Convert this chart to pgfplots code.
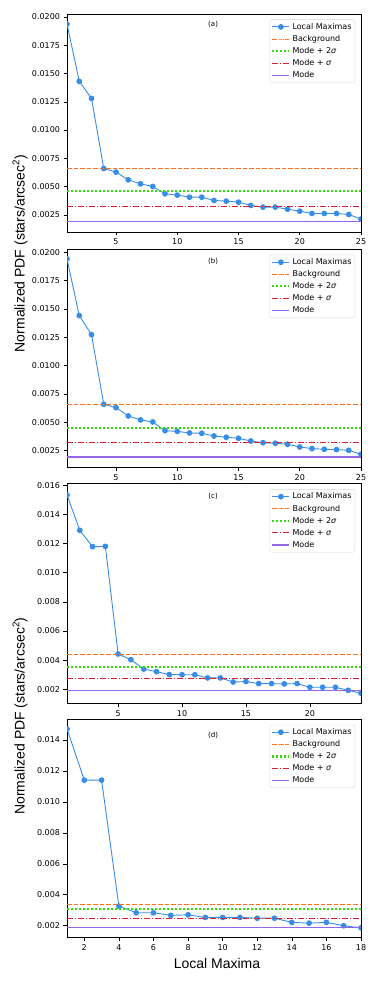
\documentclass[border=0pt]{standalone}
\usepackage{fontspec}
\setmainfont{DejaVu Sans}
\newfontfamily\arial{Liberation Sans}
\usepackage{pgfplots}
\pgfplotsset{compat=1.18}

\definecolor{cblue}{RGB}{56,142,230}
\definecolor{corange}{RGB}{255,112,30}
\definecolor{cgreen}{RGB}{50,220,10}
\definecolor{cred}{RGB}{225,30,45}
\definecolor{cpurple}{RGB}{150,100,235}

\pgfplotsset{
  panel/.style={
    scale only axis, width=294pt, height=218pt, anchor=south west,
    axis line style={black, line width=0.6pt},
    tick align=outside, major tick length=3.5pt,
    tick style={black, line width=0.6pt},
    tick pos=left, scaled y ticks=false,
    clip marker paths=true,
    font=\fontsize{8}{9}\selectfont,
    /pgf/number format/assume math mode=true,
    legend cell align=left,
    legend style={at={(0.98,0.975)}, anchor=north east, draw=black!15,
      rounded corners=2pt, fill=white, font=\fontsize{8}{9}\selectfont,
      inner sep=1.5pt, row sep=0.5pt},
  },
  maxima/.style={color=cblue, line width=0.9pt, mark=*, mark size=2.4pt},
  bg/.style={color=corange, line width=1pt, dash pattern=on 4.5pt off 2pt},
  twosig/.style={color=cgreen, line width=2.2pt, dash pattern=on 2pt off 2pt},
  onesig/.style={color=cred, line width=1pt, dash pattern=on 6pt off 2pt on 1pt off 2pt},
  modeline/.style={color=cpurple, line width=1.2pt},
  fourdig/.style={yticklabel style={/pgf/number format/.cd, fixed, fixed zerofill, precision=4}},
  threedig/.style={yticklabel style={/pgf/number format/.cd, fixed, fixed zerofill, precision=3}},
}

\begin{document}
\begin{tikzpicture}
\useasboundingbox (0,0) rectangle (374pt,985pt);

% (a)
\begin{axis}[panel, fourdig, at={(67pt,753pt)},
  xmin=1, xmax=25, ymin=0.00098, ymax=0.02027,
  xtick={5,10,15,20,25},
  ytick={0.0025,0.005,0.0075,0.01,0.0125,0.015,0.0175,0.02}]
\addplot[maxima] coordinates {
(1,0.01938)(2,0.01431)(3,0.0128)(4,0.0066)(5,0.00628)(6,0.0056)(7,0.00524)(8,0.00501)
(9,0.00436)(10,0.00424)(11,0.00406)(12,0.00406)(13,0.00377)(14,0.00371)(15,0.00362)
(16,0.00333)(17,0.00318)(18,0.00318)(19,0.0030)(20,0.00282)(21,0.00262)(22,0.00262)
(23,0.00262)(24,0.00253)(25,0.00212)};
\addplot[bg] coordinates {(1,0.0066)(25,0.0066)};
\addplot[twosig] coordinates {(1,0.0046)(25,0.0046)};
\addplot[onesig] coordinates {(1,0.00324)(25,0.00324)};
\addplot[modeline] coordinates {(1,0.00191)(25,0.00191)};
\legend{Local Maximas, Background, Mode + 2\textit{σ}, Mode + \textit{σ}, Mode}
\node[font=\fontsize{7}{8}\selectfont] at (rel axis cs:0.497,0.954) {(a)};
\end{axis}

% (b)
\begin{axis}[panel, fourdig, at={(67pt,517.7pt)},
  xmin=1, xmax=25, ymin=0.00103, ymax=0.02026,
  xtick={5,10,15,20,25},
  ytick={0.0025,0.005,0.0075,0.01,0.0125,0.015,0.0175,0.02}]
\addplot[maxima] coordinates {
(1,0.01941)(2,0.01441)(3,0.01273)(4,0.00659)(5,0.00629)(6,0.00556)(7,0.00521)(8,0.00503)
(9,0.00426)(10,0.0042)(11,0.00406)(12,0.00403)(13,0.00379)(14,0.00368)(15,0.00359)
(16,0.00335)(17,0.0032)(18,0.00315)(19,0.00306)(20,0.00282)(21,0.00268)(22,0.00262)
(23,0.00259)(24,0.00253)(25,0.00218)};
\addplot[bg] coordinates {(1,0.00653)(25,0.00653)};
\addplot[twosig] coordinates {(1,0.00453)(25,0.00453)};
\addplot[onesig] coordinates {(1,0.0032)(25,0.0032)};
\addplot[modeline] coordinates {(1,0.00194)(25,0.00194)};
\legend{Local Maximas, Background, Mode + 2\textit{σ}, Mode + \textit{σ}, Mode}
\node[font=\fontsize{7}{8}\selectfont] at (rel axis cs:0.497,0.943) {(b)};
\end{axis}

% (c)
\begin{axis}[panel, threedig, at={(67pt,281.7pt)}, height=219.6pt,
  xmin=1, xmax=24, ymin=0.00104, ymax=0.0161,
  xtick={5,10,15,20},
  ytick={0.002,0.004,0.006,0.008,0.01,0.012,0.014,0.016}]
\addplot[maxima] coordinates {
(1,0.01533)(2,0.0129)(3,0.01178)(4,0.0118)(5,0.00442)(6,0.00403)(7,0.00339)(8,0.00321)
(9,0.00301)(10,0.0030)(11,0.0030)(12,0.00278)(13,0.00278)(14,0.0025)(15,0.00253)
(16,0.00239)(17,0.00239)(18,0.00237)(19,0.00239)(20,0.00214)(21,0.00214)(22,0.00214)
(23,0.00193)(24,0.00173)};
\addplot[bg] coordinates {(1,0.0044)(24,0.0044)};
\addplot[twosig] coordinates {(1,0.00353)(24,0.00353)};
\addplot[onesig] coordinates {(1,0.00273)(24,0.00273)};
\addplot[modeline] coordinates {(1,0.00191)(24,0.00191)};
\legend{Local Maximas, Background, Mode + 2\textit{σ}, Mode + \textit{σ}, Mode}
\node[font=\fontsize{7}{8}\selectfont] at (rel axis cs:0.497,0.944) {(c)};
\end{axis}

% (d)
\begin{axis}[panel, threedig, at={(67pt,47.3pt)}, height=218.4pt,
  xmin=1, xmax=18, ymin=0.00123, ymax=0.01533,
  xtick={2,4,6,8,10,12,14,16,18},
  ytick={0.002,0.004,0.006,0.008,0.01,0.012,0.014}]
\addplot[maxima] coordinates {
(1,0.01471)(2,0.0114)(3,0.0114)(4,0.00327)(5,0.00284)(6,0.00284)(7,0.00267)(8,0.00271)
(9,0.00254)(10,0.00254)(11,0.00254)(12,0.00249)(13,0.00249)(14,0.00222)(15,0.00217)
(16,0.00222)(17,0.0020)(18,0.00187)};
\addplot[bg] coordinates {(1,0.00335)(18,0.00335)};
\addplot[twosig] coordinates {(1,0.0031)(18,0.0031)};
\addplot[onesig] coordinates {(1,0.00249)(18,0.00249)};
\addplot[modeline] coordinates {(1,0.00189)(18,0.00189)};
\legend{Local Maximas, Background, Mode + 2\textit{σ}, Mode + \textit{σ}, Mode}
\node[font=\fontsize{7}{8}\selectfont] at (rel axis cs:0.497,0.928) {(d)};
\end{axis}

\node[rotate=90, font=\arial\fontsize{14}{16}\selectfont] at (20pt,731.5pt) {Normalized PDF (stars/arcsec\textsuperscript{2})};
\node[rotate=90, font=\arial\fontsize{14}{16}\selectfont] at (20pt,269pt) {Normalized PDF (stars/arcsec\textsuperscript{2})};
\node[font=\arial\fontsize{14}{16}\selectfont] at (217pt,22pt) {Local Maxima};
\end{tikzpicture}
\end{document}
